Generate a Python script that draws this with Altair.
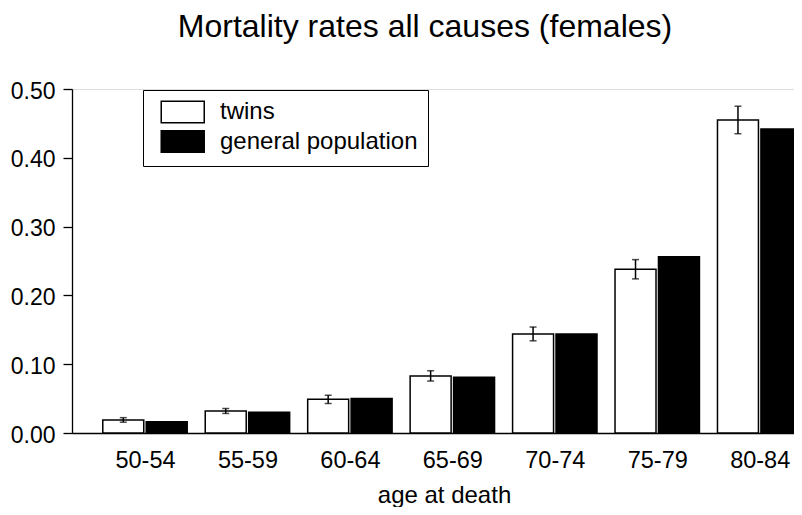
import json
import altair as alt
import pandas as pd

age_groups = ["50-54", "55-59", "60-64", "65-69", "70-74", "75-79", "80-84"]
twins = [0.019, 0.032, 0.049, 0.083, 0.144, 0.238, 0.455]
twins_err = [0.0033, 0.0036, 0.006, 0.0075, 0.010, 0.014, 0.020]
general = [0.0165, 0.030, 0.050, 0.081, 0.144, 0.256, 0.442]
series_names = ["twins", "general population"]
y_ticks = [0.0, 0.1, 0.2, 0.3, 0.4, 0.5]

rows = []
for i, g in enumerate(age_groups):
    rows.append({"idx": i, "age": g, "series": series_names[0], "rate": twins[i], "err": twins_err[i], "side": -1})
    rows.append({"idx": i, "age": g, "series": series_names[1], "rate": general[i], "err": 0.0, "side": 1})
df = pd.DataFrame(rows)

FONT = "Liberation Sans"
label_expr = json.dumps(age_groups) + "[datum.value]"

x_scale = alt.Scale(domain=[-0.7125, 6.413], nice=False, zero=False)
y_scale = alt.Scale(domain=[0, 0.5], nice=False)

base = alt.Chart(df).transform_calculate(
    xc="datum.idx + datum.side * 0.212",
    x_lo="datum.idx + datum.side * 0.212 - 0.2",
    x_hi="datum.idx + datum.side * 0.212 + 0.2",
    lo="datum.rate - datum.err",
    hi="datum.rate + datum.err",
)

x_axis = alt.Axis(
    values=list(range(len(age_groups))), labelExpr=label_expr, title="age at death",
    grid=False, ticks=False, tickSize=0, domainColor="black", domainWidth=1.3,
    labelFont=FONT, labelFontSize=23.5, labelColor="black", labelBaseline="alphabetic",
    labelPadding=34, titleFont=FONT, titleFontSize=24, titleFontWeight="normal",
    titleColor="black", titleX=372, titleY=69, titleBaseline="alphabetic", titleAlign="center",
)
y_axis = alt.Axis(
    values=y_ticks, format=".2f", title=None, grid=False, tickSize=9, tickColor="black",
    tickWidth=1.3, domainColor="black", domainWidth=1.3, labelFont=FONT, labelFontSize=23,
    labelColor="black", labelPadding=8, labelOffset=2,
)

bars = base.mark_bar(stroke="black", strokeWidth=1.5, clip=True).encode(
    x=alt.X("x_lo:Q", scale=x_scale, axis=x_axis),
    x2="x_hi:Q",
    y=alt.Y("rate:Q", scale=y_scale, axis=y_axis),
    y2=alt.datum(0),
    fill=alt.Fill(
        "series:N",
        scale=alt.Scale(domain=series_names, range=["white", "black"]),
        legend=alt.Legend(
            title=None, orient="none", legendX=71, legendY=1, strokeColor="black",
            padding=10, symbolType="M-0.35,-1H3.65V1H-0.35Z", symbolSize=462,
            symbolStrokeColor="black", symbolStrokeWidth=1.5, symbolOpacity=1,
            labelFont=FONT, labelFontSize=24, labelColor="black", labelOffset=43,
            labelExpr="datum.label + '\u00a0'",
            rowPadding=1.5, labelLimit=400,
        ),
    ),
)

err = base.transform_filter(alt.datum.err > 0)
err_rule = err.mark_rule(color="black", strokeWidth=1.5).encode(
    x=alt.X("xc:Q", scale=x_scale), y=alt.Y("lo:Q", scale=y_scale), y2="hi:Q"
)
cap_lo = err.mark_tick(color="black", orient="horizontal", size=7, thickness=1.5).encode(
    x=alt.X("xc:Q", scale=x_scale), y=alt.Y("lo:Q", scale=y_scale)
)
cap_hi = err.mark_tick(color="black", orient="horizontal", size=7, thickness=1.5).encode(
    x=alt.X("xc:Q", scale=x_scale), y=alt.Y("hi:Q", scale=y_scale)
)

chart = alt.layer(bars, err_rule, cap_lo, cap_hi).properties(
    width=730,
    height=344,
    title=alt.TitleParams(
        "Mortality rates all causes (females)", font=FONT, fontSize=32, fontWeight="normal",
        color="black", anchor="middle", frame="group", dx=-12, offset=11, baseline="alphabetic",
    ),
    autosize=alt.AutoSizeParams(type="none"),
    padding={"left": 64, "top": 81, "right": -8, "bottom": 74},
).configure_view(stroke=None).configure(background="white")

chart.save("out.html", embed_options={"renderer": "svg", "actions": False})
